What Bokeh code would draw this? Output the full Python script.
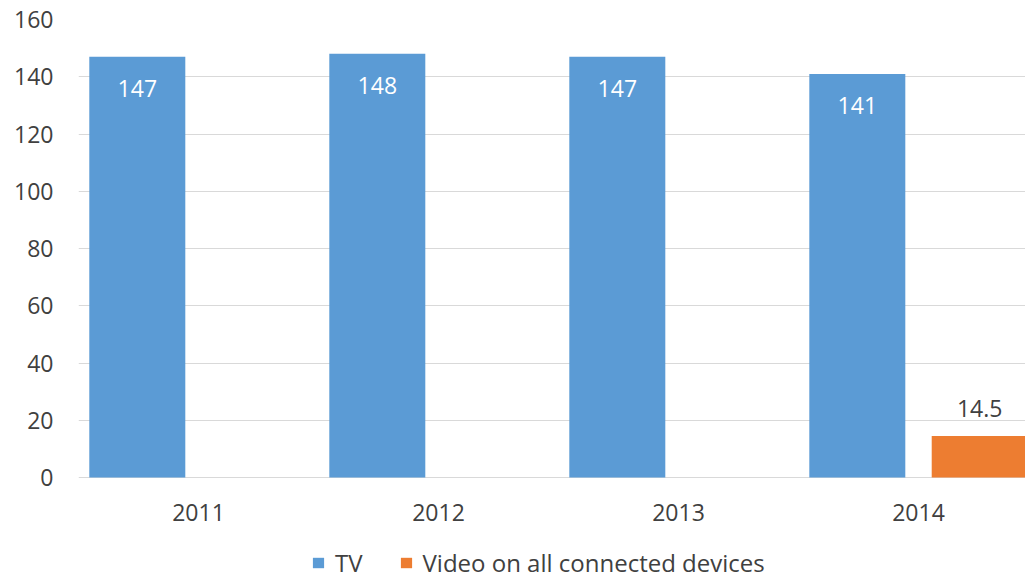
from bokeh.plotting import figure
from bokeh.models import ColumnDataSource, FixedTicker, Legend, LegendItem, Range1d
from bokeh.core.properties import value
from bokeh.embed import file_html
from bokeh.resources import INLINE

years = ["2011", "2012", "2013", "2014"]
tv = [147, 148, 147, 141]
video = [None, None, None, 14.5]
y_ticks = [0, 20, 40, 60, 80, 100, 120, 140, 160]

FONT = "Open Sans"
BLUE = "#5B9BD5"
ORANGE = "#ED7D31"
TXT = "#404040"

xs = list(range(len(years)))
off = 0.255
bw = 0.40

tv_src = ColumnDataSource(dict(x=[i - off for i in xs], top=tv,
                               lab=[str(v) for v in tv]))
vx = [i + off for i, v in zip(xs, video) if v is not None]
vv = [v for v in video if v is not None]
vid_src = ColumnDataSource(dict(x=vx, top=vv, lab=[str(v) for v in vv]))

# frame extends to the bottom of the window; 160 units = 458 px
p = figure(frame_width=947, frame_height=560, output_backend="svg",
           toolbar_location=None, min_border_top=19, min_border_left=78,
           min_border_right=0, min_border_bottom=0,
           x_range=Range1d(-0.5, 3.4458), y_range=Range1d(-35.63, 160))
p.outline_line_color = None

r_tv = p.vbar(x="x", top="top", bottom=0, width=bw, source=tv_src,
              fill_color=BLUE, line_color=None)
r_v = p.vbar(x="x", top="top", bottom=0, width=bw, source=vid_src,
             fill_color=ORANGE, line_color=None)

p.text(x="x", y="top", text="lab", source=tv_src, y_offset=32,
       text_align="center", text_baseline="middle", text_color="white",
       text_font=value(FONT), text_font_size="23px")
p.text(x="x", y="top", text="lab", source=vid_src, y_offset=-28,
       text_align="center", text_baseline="middle", text_color=TXT,
       text_font=value(FONT), text_font_size="23px")

p.xaxis.ticker = FixedTicker(ticks=xs)
p.xaxis.major_label_overrides = {i: y for i, y in zip(xs, years)}
p.xaxis.fixed_location = 0
p.yaxis.ticker = FixedTicker(ticks=y_ticks)
for ax in (p.xaxis, p.yaxis):
    ax.axis_line_color = None
    ax.major_tick_line_color = None
    ax.minor_tick_line_color = None
    ax.major_tick_in = 0
    ax.major_tick_out = 0
    ax.major_label_text_font = FONT
    ax.major_label_text_font_size = "23px"
    ax.major_label_text_color = TXT
p.xaxis.major_label_standoff = 26
p.yaxis.major_label_standoff = 25

p.xgrid.grid_line_color = None
p.ygrid.grid_line_color = "#D9D9D9"
p.ygrid.grid_line_width = 1
p.ygrid.ticker = FixedTicker(ticks=y_ticks)

legend = Legend(items=[LegendItem(label="TV", renderers=[r_tv]),
                       LegendItem(label="Video on all connected devices", renderers=[r_v])],
                orientation="horizontal", location=(233, 0),
                label_text_font=FONT, label_text_font_size="24px",
                label_text_color=TXT, glyph_width=14, glyph_height=13,
                label_standoff=10, spacing=36, border_line_color=None,
                background_fill_alpha=0, padding=0, margin=0)
p.add_layout(legend, "center")

open("out.html", "w").write(file_html(p, INLINE))
